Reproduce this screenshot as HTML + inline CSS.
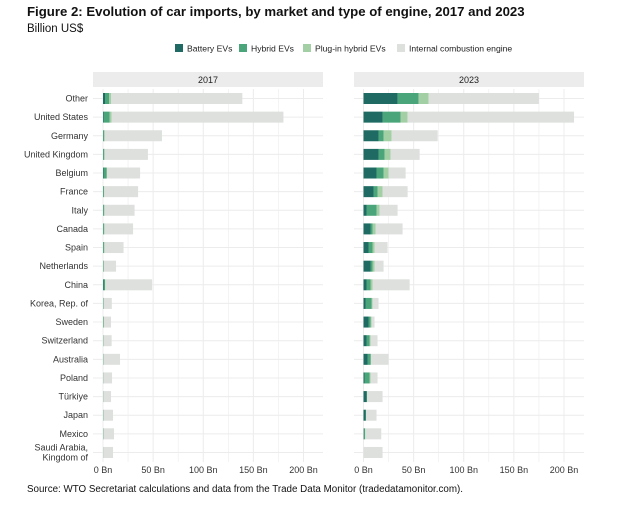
<!DOCTYPE html>
<html><head><meta charset="utf-8"><style>
body{margin:0;background:#fff;font-family:"Liberation Sans",Arial,sans-serif;}
svg text{font-family:"Liberation Sans",Arial,sans-serif;}
</style></head><body>
<svg id="chart" width="640" height="500" xmlns="http://www.w3.org/2000/svg">
<text x="27" y="16" font-size="13.2" font-weight="bold" fill="#111">Figure 2: Evolution of car imports, by market and type of engine, 2017 and 2023</text>
<text x="27" y="32" font-size="11.5" fill="#111">Billion US$</text>
<g id="legend"></g>
<g id="panels"></g>
<text x="27" y="492" font-size="9.8" fill="#111">Source: WTO Secretariat calculations and data from the Trade Data Monitor (tradedatamonitor.com).</text>
</svg>
<script>
const countries=["Other","United States","Germany","United Kingdom","Belgium","France","Italy","Canada","Spain","Netherlands","China","Korea, Rep. of","Sweden","Switzerland","Australia","Poland","Türkiye","Japan","Mexico","Saudi Arabia, Kingdom of"];
const series=["Battery EVs","Hybrid EVs","Plug-in hybrid EVs","Internal combustion engine"];
const years=["2017","2023"];
const bev2017=[2,0.5,0.3,0.3,0.5,0.2,0.2,0.2,0.2,0.2,0.5,0.1,0.2,0.1,0.1,0.1,0.1,0.1,0.1,0.1];
const hev2017=[4,6,1,1,3,0.8,1,1,1,0.5,1.5,0.5,0.3,0.3,0.3,0.2,0.2,0.3,0.3,0.1];
const phev2017=[2,2,0.5,0.5,0.5,0.3,0.3,0.3,0.3,0.3,0.3,0.2,0.5,0.2,0.1,0.1,0.1,0.1,0.1,0.1];
const ice2017=[131,171.5,57,43,33,33.7,30,28.5,19,12,46.7,8,7,8,16.5,8.6,7.6,9.5,10.5,9.7];
const bev2023=[34,19,15,15,13,10,3,7,5,7,3,2,5,3,4,1,3,2,0.3,0];
const hev2023=[21,18,5,6,7,4,10,2,4,2,4,6,2,3,3,5,0.5,0.5,1.4,0];
const phev2023=[10,7,8,6,5,5,3,3,2,2,2,1,1,1,0.5,1,0,0,0,0];
const ice2023=[110,166,46,29,17,25,18,27,13,9,37,6,3,7,17.5,7,15.5,10.5,16,19];
const ticks=[0,50,100,150,200];
const tickLabels=["0 Bn","50 Bn","100 Bn","150 Bn","200 Bn"];

const colors=["#1f6b63","#4aa57a","#a3cfa4","#dde0dd"];
const NS="http://www.w3.org/2000/svg";
const svg=document.getElementById('chart');
function mk(tag,attrs,parent){const e=document.createElementNS(NS,tag);for(const k in attrs)e.setAttribute(k,attrs[k]);(parent||svg).appendChild(e);return e;}
const lg=document.getElementById('legend');
const legX=[175,239,303,397];
series.forEach((s,i)=>{
  const r=mk('rect',{x:legX[i],y:44,width:8,height:8,fill:colors[i]},lg);
  
  
  const t=mk('text',{x:legX[i]+12,y:51.5,'font-size':8.6,fill:'#222'},lg);
  t.textContent=s;
  
  
});
const rowY0=98.5,rowStep=18.63,barH=11;
function yPos(i){return rowY0+i*rowStep;}
const panels=[{x0:93,x1:323,z:103,data:[bev2017,hev2017,phev2017,ice2017]},{x0:354,x1:584,z:363.5,data:[bev2023,hev2023,phev2023,ice2023]}];
const scale=200.5/200;
panels.forEach((p,pi)=>{
  const g=mk('g',{});
  
  
  const xs=v=>p.z+v*scale;
  const strip=mk('rect',{x:p.x0,y:72,width:p.x1-p.x0,height:15,fill:'#ececec'},g);
  
  
  const st=mk('text',{x:(p.x0+p.x1)/2,y:83,'font-size':9,'text-anchor':'middle',fill:'#222'},g);
  st.textContent=years[pi];
  
  
  for(let v=0;v<=225;v+=25){const x=xs(v);if(x>p.x1)break;
    const l=mk('line',{x1:x,x2:x,y1:89,y2:462,stroke:'#ececec','stroke-width':v%50===0?1:0.6},g);
    
    }
  countries.forEach((c,i)=>{
    const l=mk('line',{x1:p.x0,x2:p.x1,y1:yPos(i),y2:yPos(i),stroke:'#ececec','stroke-width':1},g);
    
    
  });
  countries.forEach((c,i)=>{
    let acc=0;
    p.data.forEach((arr,si)=>{
      const v=arr[i];if(v<=0)return;
      const r=mk('rect',{x:xs(acc),y:yPos(i)-barH/2,width:v*scale,height:barH,fill:colors[si]},g);
      
      
      acc+=v;
    });
  });
  ticks.forEach((v,ti)=>{
    const t=mk('text',{x:xs(v),y:473,'font-size':9,'text-anchor':'middle',fill:'#333'},g);
    t.textContent=tickLabels[ti];
    
    
  });
});
countries.forEach((c,i)=>{
  const parts=c==="Saudi Arabia, Kingdom of"?["Saudi Arabia,","Kingdom of"]:[c];
  const t=mk('text',{x:88,y:yPos(i)+3,'font-size':9,'text-anchor':'end',fill:'#333'});
  
  
  if(parts.length===1)t.textContent=c;
  else parts.forEach((pt,k)=>{const ts=mk('tspan',{x:88,dy:k===0?-5:10},t);ts.textContent=pt;});
});
</script>
</body></html>
